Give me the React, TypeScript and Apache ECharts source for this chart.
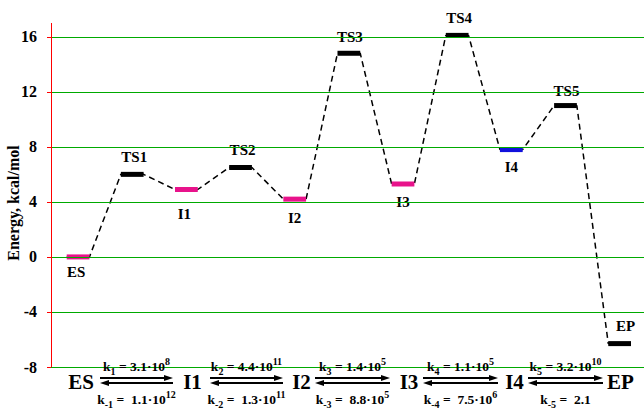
import React, { useEffect, useRef } from "react";
import * as echarts from "echarts";

// ---- data ----
const levelNames = ["ES", "TS1", "I1", "TS2", "I2", "TS3", "I3", "TS4", "I4", "TS5", "EP"];
const energies = [0, 6.0, 4.9, 6.5, 4.2, 14.8, 5.3, 16.1, 7.8, 11.0, -6.3];
const yTicks = [-8, -4, 0, 4, 8, 12, 16];
const schemeSpecies = ["ES", "I1", "I2", "I3", "I4", "EP"];
const forwardMantissa = ["3.1", "4.4", "1.4", "1.1", "3.2"];
const forwardExp = ["8", "11", "5", "5", "10"];
const reverseMantissa = ["1.1", "1.3", "8.8", "7.5", "2.1"];
const reverseExp = ["12", "11", "5", "6", ""];

// ---- styles / layout ----
const PINK = "#E8138B";
const BLUE = "#1010DC";
const BLACK = "#000000";
const levelColors = [PINK, BLACK, PINK, BLACK, PINK, BLACK, PINK, BLACK, BLUE, BLACK, BLACK];
const labelDy = [15, -17, 25, -17, 19, -16, 18, -17, 17, -15, -18];
const labelDx = [-2, 2, -2, 2, 0, 1, 0, 2, 0, 1, 6];
const HALF = 0.21;
const X_MIN = -0.5;
const X_MAX = 10.45;
const Y_MIN = -8;
const Y_MAX = 17;
const GRID = { left: 51, top: 23, right: 0, bottom: 42 };
const W = 644;
const H = 409;
const FONT = '"Liberation Serif", "Times New Roman", serif';
const speciesX = [81, 192.5, 301.5, 409, 514.5, 620.5];
const arrowSpans = [
  [100, 173],
  [210, 283],
  [315, 390],
  [423, 498],
  [528, 603],
];
const SPECIES_Y = 382;
const TOP_Y = 378;
const BOT_Y = 383;
const RATE_TOP_Y = 366;
const RATE_BOT_Y = 399;
const AXIS_GRAY = "#ff0000";
const GRID_GRAY = "#00aa00";

const rich = {
  k: { fontSize: 13.5, fontWeight: "bold", fontFamily: FONT, fill: "#000", lineHeight: 20 },
  m: { fontSize: 13.5, fontWeight: "bold", fontFamily: FONT, fill: "#000", lineHeight: 20 },
  s: { fontSize: 10, fontWeight: "bold", fontFamily: FONT, fill: "#000", lineHeight: 11, verticalAlign: "bottom" },
  p: { fontSize: 10, fontWeight: "bold", fontFamily: FONT, fill: "#000", lineHeight: 11, verticalAlign: "top" },
};

const yPix = (v: number) =>
  GRID.top + ((Y_MAX - v) / (Y_MAX - Y_MIN)) * (H - GRID.top - GRID.bottom);

function buildGraphics() {
  const g: any[] = [];
  // frame (diagnostic colours)
  yTicks.forEach((v) => {
    const yy = Math.round(yPix(v)) + 0.5;
    g.push({
      type: "line",
      z: 50,
      shape: { x1: GRID.left, y1: yy, x2: W - GRID.right, y2: yy },
      style: { stroke: GRID_GRAY, lineWidth: 1 },
    });
    g.push({
      type: "line",
      z: 50,
      shape: { x1: GRID.left - 4, y1: yy, x2: GRID.left, y2: yy },
      style: { stroke: AXIS_GRAY, lineWidth: 1 },
    });
  });
  g.push({
    type: "line",
    z: 50,
    shape: { x1: GRID.left + 0.5, y1: GRID.top, x2: GRID.left + 0.5, y2: H - GRID.bottom },
    style: { stroke: AXIS_GRAY, lineWidth: 1 },
  });
  g.push({
    type: "text",
    z: 100,
    x: 13,
    y: 203,
    rotation: Math.PI / 2,
    style: {
      text: "Energy, kcal/mol",
      font: `bold 16px ${FONT}`,
      fill: "#000",
      align: "center",
      verticalAlign: "middle",
    },
  });
  schemeSpecies.forEach((s, i) => {
    g.push({
      type: "text",
      z: 100,
      x: speciesX[i],
      y: SPECIES_Y,
      style: {
        text: s,
        font: `bold 21px ${FONT}`,
        fill: "#000",
        align: "center",
        verticalAlign: "middle",
      },
    });
  });
  arrowSpans.forEach(([x1, x2], i) => {
    g.push({
      type: "line",
      z: 100,
      shape: { x1, y1: TOP_Y, x2: x2 - 5, y2: TOP_Y },
      style: { stroke: "#000", lineWidth: 2 },
    });
    g.push({
      type: "polygon",
      z: 100,
      shape: { points: [[x2, TOP_Y], [x2 - 9, TOP_Y - 3], [x2 - 9, TOP_Y + 3]] },
      style: { fill: "#000" },
    });
    g.push({
      type: "line",
      z: 100,
      shape: { x1: x1 + 5, y1: BOT_Y, x2, y2: BOT_Y },
      style: { stroke: "#000", lineWidth: 2 },
    });
    g.push({
      type: "polygon",
      z: 100,
      shape: { points: [[x1, BOT_Y], [x1 + 9, BOT_Y - 3], [x1 + 9, BOT_Y + 3]] },
      style: { fill: "#000" },
    });
    const cx = (x1 + x2) / 2;
    const fwd = `{k|k}{s|${i + 1}}{m| = ${forwardMantissa[i]}·10}{p|${forwardExp[i]}}`;
    const rev = reverseExp[i]
      ? `{k|k}{s|-${i + 1}}{m| =  ${reverseMantissa[i]}·10}{p|${reverseExp[i]}}`
      : `{k|k}{s|-${i + 1}}{m| =  ${reverseMantissa[i]}}`;
    g.push({
      type: "text",
      z: 100,
      x: cx,
      y: RATE_TOP_Y,
      style: { text: fwd, rich, align: "center", verticalAlign: "middle", fill: "#000" },
    });
    g.push({
      type: "text",
      z: 100,
      x: cx,
      y: RATE_BOT_Y,
      style: { text: rev, rich, align: "center", verticalAlign: "middle", fill: "#000" },
    });
  });
  return g;
}

export default function App() {
  const ref = useRef<HTMLDivElement>(null);
  useEffect(() => {
    document.body.style.margin = "0";
    const chart = echarts.init(ref.current!, undefined, { renderer: "svg" });
    const option: any = {
      animation: false,
      backgroundColor: "#ffffff",
      grid: { ...GRID, containLabel: false },
      xAxis: { type: "value", min: X_MIN, max: X_MAX, show: false },
      yAxis: {
        type: "value",
        min: Y_MIN,
        max: Y_MAX,
        interval: 4,
        axisLine: { show: false },
        axisTick: { show: false },
        axisLabel: {
          color: "#000",
          fontSize: 16,
          fontWeight: "bold",
          fontFamily: FONT,
          margin: 14,
          showMaxLabel: false,
          formatter: (v: number) => (yTicks.includes(v) ? String(v) : ""),
        },
        splitLine: { show: false },
      },
      series: [
        {
          type: "line",
          z: 6,
          silent: true,
          symbol: "none",
          data: energies.flatMap((e, i) => [
            [i - HALF, e],
            [i + HALF, e],
          ]),
          lineStyle: { color: "#000", width: 1.5, type: [6, 4] },
        },
        {
          type: "custom",
          z: 7,
          silent: true,
          clip: false,
          data: energies.map((e, i) => [i, e]),
          encode: { x: 0, y: 1 },
          renderItem: (params: any, api: any) => {
            const i = params.dataIndex;
            const x = api.value(0) as number;
            const y = api.value(1) as number;
            const a = api.coord([x - HALF, y]);
            const b = api.coord([x + HALF, y]);
            return {
              type: "group",
              children: [
                {
                  type: "line",
                  shape: { x1: a[0], y1: a[1], x2: b[0], y2: b[1] },
                  style: { stroke: levelColors[i], lineWidth: 5 },
                },
                {
                  type: "text",
                  x: (a[0] + b[0]) / 2 + labelDx[i],
                  y: a[1] + labelDy[i],
                  style: {
                    text: levelNames[i],
                    fill: "#000",
                    font: `bold 15px ${FONT}`,
                    align: "center",
                    verticalAlign: "middle",
                  },
                },
              ],
            };
          },
        },
      ],
      graphic: buildGraphics(),
    };
    chart.setOption(option);
    return () => chart.dispose();
  }, []);
  return (
    <div
      ref={ref}
      style={{ width: W, height: H, position: "absolute", left: 0, top: 0, background: "#fff" }}
    />
  );
}
